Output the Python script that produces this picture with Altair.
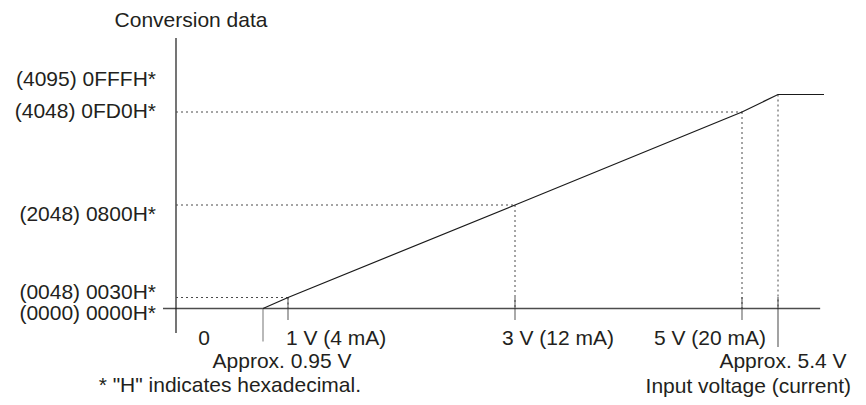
import altair as alt
import pandas as pd

# ---------------- data (diagram values) ----------------
x_tick_values = [1, 3, 5]
x_tick_labels = ["1 V (4 mA)", "3 V (12 mA)", "5 V (20 mA)"]
y_levels = [4095, 4048, 2048, 48, 0]
y_level_labels = ["(4095) 0FFFH*", "(4048) 0FD0H*", "(2048) 0800H*", "(0048) 0030H*", "(0000) 0000H*"]
curve_v = [0.95, 1, 3, 5, 5.4, 6.0]
curve_counts = [0, 48, 2048, 4048, 4095, 4095]
guide_v = [1, 3, 5]
guide_counts = [48, 2048, 4048]
approx_v = [0.95, 5.4]
approx_labels = ["Approx. 0.95 V", "Approx. 5.4 V"]
approx_counts = [0, 4095]
x_axis_extent = [-0.15, 5.95]
y_axis_extent = [-100, 4300]
y_title = "Conversion data"
x_title = "Input voltage (current)"
footnote = '* "H" indicates hexadecimal.'

# ---------------- scales: piecewise (diagram is not to scale) ----------------
XS = alt.Scale(domain=[-0.15, 0, 0.95, 1, 3, 5, 5.4, 6.0],
               range=[155, 168, 255, 280, 507, 734, 770, 816], nice=False, zero=False)
YS = alt.Scale(domain=[-100, 0, 48, 2048, 4048, 4095, 4300],
               range=[325, 300.5, 289.5, 197, 104, 86.5, 30], nice=False, zero=False)

FONT = "Liberation Sans"
FS = 21
TXT = "#231f20"


def X(f):
    return alt.X(f, type="quantitative", scale=XS, axis=None)


def Y(f):
    return alt.Y(f, type="quantitative", scale=YS, axis=None)


layers = []

# axis lines
xaxis_df = pd.DataFrame({"v": [x_axis_extent[0]], "v2": [x_axis_extent[1]], "c": [0]})
layers.append(alt.Chart(xaxis_df).mark_rule(color="#4d4d4d", strokeWidth=1.4).encode(
    x=X("v"), x2="v2", y=Y("c")))
yaxis_df = pd.DataFrame({"v": [0], "c": [y_axis_extent[0]], "c2": [y_axis_extent[1]]})
layers.append(alt.Chart(yaxis_df).mark_rule(color="#1a1a1a", strokeWidth=1.2).encode(
    x=X("v"), y=Y("c"), y2="c2"))

# dashed horizontal guides
hg = pd.DataFrame({"v": [0] * len(guide_v), "v2": guide_v, "c": guide_counts})
layers.append(alt.Chart(hg).mark_rule(color="#4a4a4a", strokeWidth=1, strokeDash=[2, 3]).encode(
    x=X("v"), x2="v2", y=Y("c")))

# dashed vertical guides
vg = pd.DataFrame({"v": guide_v + [approx_v[1]], "c": guide_counts + [approx_counts[1]],
                   "c2": [0] * (len(guide_v) + 1)})
layers.append(alt.Chart(vg).mark_rule(color="#4a4a4a", strokeWidth=1, strokeDash=[2, 3]).encode(
    x=X("v"), y=Y("c"), y2="c2"))

# regular ticks
tk = pd.DataFrame({"v": x_tick_values, "c": [0] * len(x_tick_values)})
layers.append(alt.Chart(tk).mark_tick(orient="vertical", size=23, thickness=1.2, color="#333333").encode(
    x=X("v"), y=Y("c")))

# long ticks at approx points
layers.append(alt.Chart(pd.DataFrame({"v": [approx_v[0]], "c": [0]})).mark_tick(
    orient="vertical", size=33, thickness=1.3, color="#666666", yOffset=16.5).encode(x=X("v"), y=Y("c")))
layers.append(alt.Chart(pd.DataFrame({"v": [approx_v[1]], "c": [0]})).mark_tick(
    orient="vertical", size=50, thickness=1.2, color="#222222", yOffset=13.5).encode(x=X("v"), y=Y("c")))

# the conversion curve
cv = pd.DataFrame({"v": curve_v, "c": curve_counts, "o": list(range(len(curve_v)))})
layers.append(alt.Chart(cv).mark_line(color="#1a1a1a", strokeWidth=1.2).encode(
    x=X("v"), y=Y("c"), order="o:Q"))


def label(text, v, c, align, dx, dy):
    df = pd.DataFrame({"v": [v], "c": [c], "t": [text]})
    return alt.Chart(df).mark_text(font=FONT, fontSize=FS, color=TXT, align=align,
                                   baseline="alphabetic", dx=dx, dy=dy).encode(
        x=X("v"), y=Y("c"), text="t:N")


# y level labels
y_label_dy = [-8.5, 5.5, 15.5, 1, 11]
for t, lv, dy in zip(y_level_labels, y_levels, y_label_dy):
    layers.append(label(t, 0, lv, "right", -20, dy))

# x tick labels
layers.append(label("0", 0, 0, "center", 28, 36))
x_label_style = [("left", -2), ("left", -13), ("right", 24)]
for t, v, (al, dx) in zip(x_tick_labels, x_tick_values, x_label_style):
    layers.append(label(t, v, 0, al, dx, 36))

# approx labels
layers.append(label(approx_labels[0], approx_v[0], 0, "center", 19, 59.5))
layers.append(label(approx_labels[1], approx_v[1], 0, "center", 5, 59.5))

# titles / notes
layers.append(label(y_title, 0, y_axis_extent[1], "center", 15, -11))
layers.append(label(footnote, approx_v[0], 0, "right", 98, 83.5))
layers.append(label(x_title, approx_v[1], 0, "right", 73, 84))

chart = alt.layer(*layers).properties(
    width=850, height=389, padding=0,
    autosize=alt.AutoSizeParams(type="none"),
    background="white",
).configure_view(stroke=None)

chart.save("out.html", embed_options={"renderer": "svg", "actions": False})
